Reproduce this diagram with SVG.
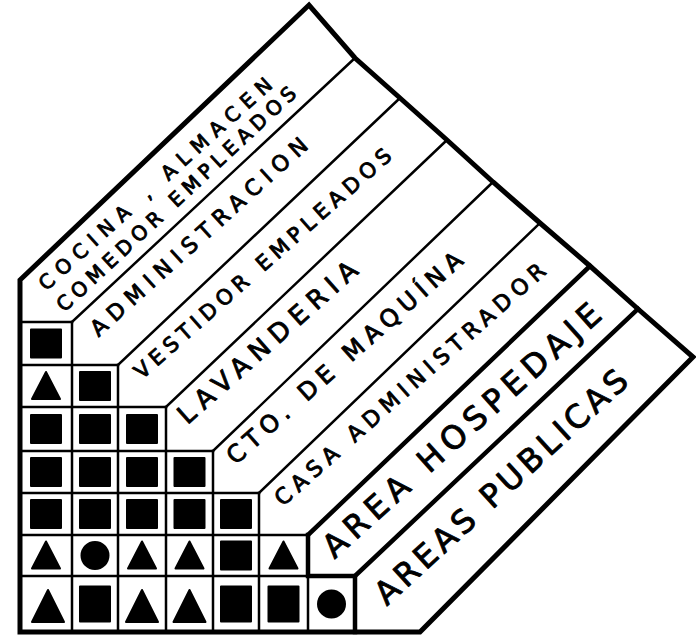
<svg xmlns="http://www.w3.org/2000/svg" width="696" height="638" viewBox="0 0 696 638">
<style>
.ln{fill:none;stroke:#000;stroke-width:2.5;stroke-linecap:square}
.thk{fill:none;stroke:#000;stroke-width:4.5;stroke-linecap:square}
.out{fill:#fff;stroke:#000;stroke-width:5;stroke-linejoin:miter}
.lbl{font-family:"DejaVu Sans","Liberation Sans",sans-serif;fill:#000;stroke:#000;stroke-width:0.9;stroke-linejoin:round;text-anchor:middle}
.mk{fill:#000;stroke:#000;stroke-width:2;stroke-linejoin:round}
</style>
<defs>
<rect id="sq" class="mk" x="-15" y="-14" width="30" height="28"/>
<polygon id="tri" class="mk" points="0,-14 14,13 -14,13"/>
<circle id="dot" class="mk" r="13.5"/>
<rect id="sqL" class="mk" x="-15" y="-17.5" width="30" height="35"/>
<polygon id="triL" class="mk" points="0,-16 16,16 -16,16"/>
</defs>
<rect width="696" height="638" fill="#fff"/>

<g id="connectors">
<path class="out" d="M20,632 L20,280 L309,5 L355,58 L400,98 L447,140 L493,182 L540,223 L590,266 L638,309 L693,357 L420,632 Z"/>
<path class="ln" d="M72,322 L355,58 M118,365 L400,98 M166,407 L447,140 M213,451 L493,182 M259,493 L540,223"/>
<path class="thk" d="M308,535 L590,266 M355,576 L638,309"/>
<path class="ln" d="M20,322 H72 M20,365 H118 M20,407 H166 M20,451 H213 M20,493 H259 M20,535 H308 M20,576 H308"/>
<path class="ln" d="M72,322 V632 M118,365 V632 M166,407 V632 M213,451 V632 M259,493 V632 M308,576 V632"/>
<path class="thk" d="M308,535 V576 H355 V632"/>
</g>

<g id="matrix">
<use href="#sq" x="46" y="343.5"/>
<use href="#tri" x="46" y="386"/><use href="#sq" x="95" y="386"/>
<use href="#sq" x="46" y="429"/><use href="#sq" x="95" y="429"/><use href="#sq" x="142" y="429"/>
<use href="#sq" x="46" y="472"/><use href="#sq" x="95" y="472"/><use href="#sq" x="142" y="472"/><use href="#sq" x="189.5" y="472"/>
<use href="#sq" x="46" y="514"/><use href="#sq" x="95" y="514"/><use href="#sq" x="142" y="514"/><use href="#sq" x="189.5" y="514"/><use href="#sq" x="236" y="514"/>
<use href="#tri" x="46" y="555.5"/><use href="#dot" x="95" y="555.5"/><use href="#tri" x="142" y="555.5"/><use href="#tri" x="189.5" y="555.5"/><use href="#sq" x="236" y="555.5"/><use href="#tri" x="283.5" y="555.5"/>
<use href="#triL" x="48" y="606"/><use href="#sqL" x="95" y="604"/><use href="#triL" x="142" y="606"/><use href="#triL" x="189.5" y="606"/><use href="#sqL" x="236" y="604"/><use href="#sqL" x="283.5" y="604"/><use href="#dot" x="331.5" y="604"/>
</g>

<g id="cocina">
<text class="lbl" transform="translate(160,189) rotate(-42)" font-size="20" textLength="306" lengthAdjust="spacing">COCINA , ALMACEN</text>
<text class="lbl" transform="translate(181,204) rotate(-43)" font-size="20" textLength="319" lengthAdjust="spacing">COMEDOR EMPLEADOS</text>
</g>
<g id="administracion">
<text class="lbl" transform="translate(204,242.5) rotate(-42)" font-size="22" textLength="284" lengthAdjust="spacing">ADMINISTRACION</text>
</g>
<g id="vestidor">
<text class="lbl" transform="translate(267.5,269) rotate(-41.5)" font-size="21" textLength="335" lengthAdjust="spacing">VESTIDOR EMPLEADOS</text>
</g>
<g id="lavanderia">
<text class="lbl" transform="translate(273.5,349) rotate(-41.5)" font-size="26" textLength="230" lengthAdjust="spacing">LAVANDERIA</text>
</g>
<g id="cuarto-maquinas">
<text class="lbl" transform="translate(350,364) rotate(-41.5)" font-size="24" textLength="306" lengthAdjust="spacing">CTO. DE MAQUÍNA</text>
</g>
<g id="casa-administrador">
<text class="lbl" transform="translate(415,390) rotate(-41.5)" font-size="22" textLength="353" lengthAdjust="spacing">CASA  ADMINISTRADOR</text>
</g>
<g id="area-hospedaje">
<text class="lbl" transform="translate(469,438.5) rotate(-42)" font-size="32" textLength="362" lengthAdjust="spacing">AREA  HOSPEDAJE</text>
</g>
<g id="areas-publicas">
<text class="lbl" transform="translate(508.5,495) rotate(-42.5)" font-size="32" textLength="330" lengthAdjust="spacing">AREAS  PUBLICAS</text>
</g>
</svg>
